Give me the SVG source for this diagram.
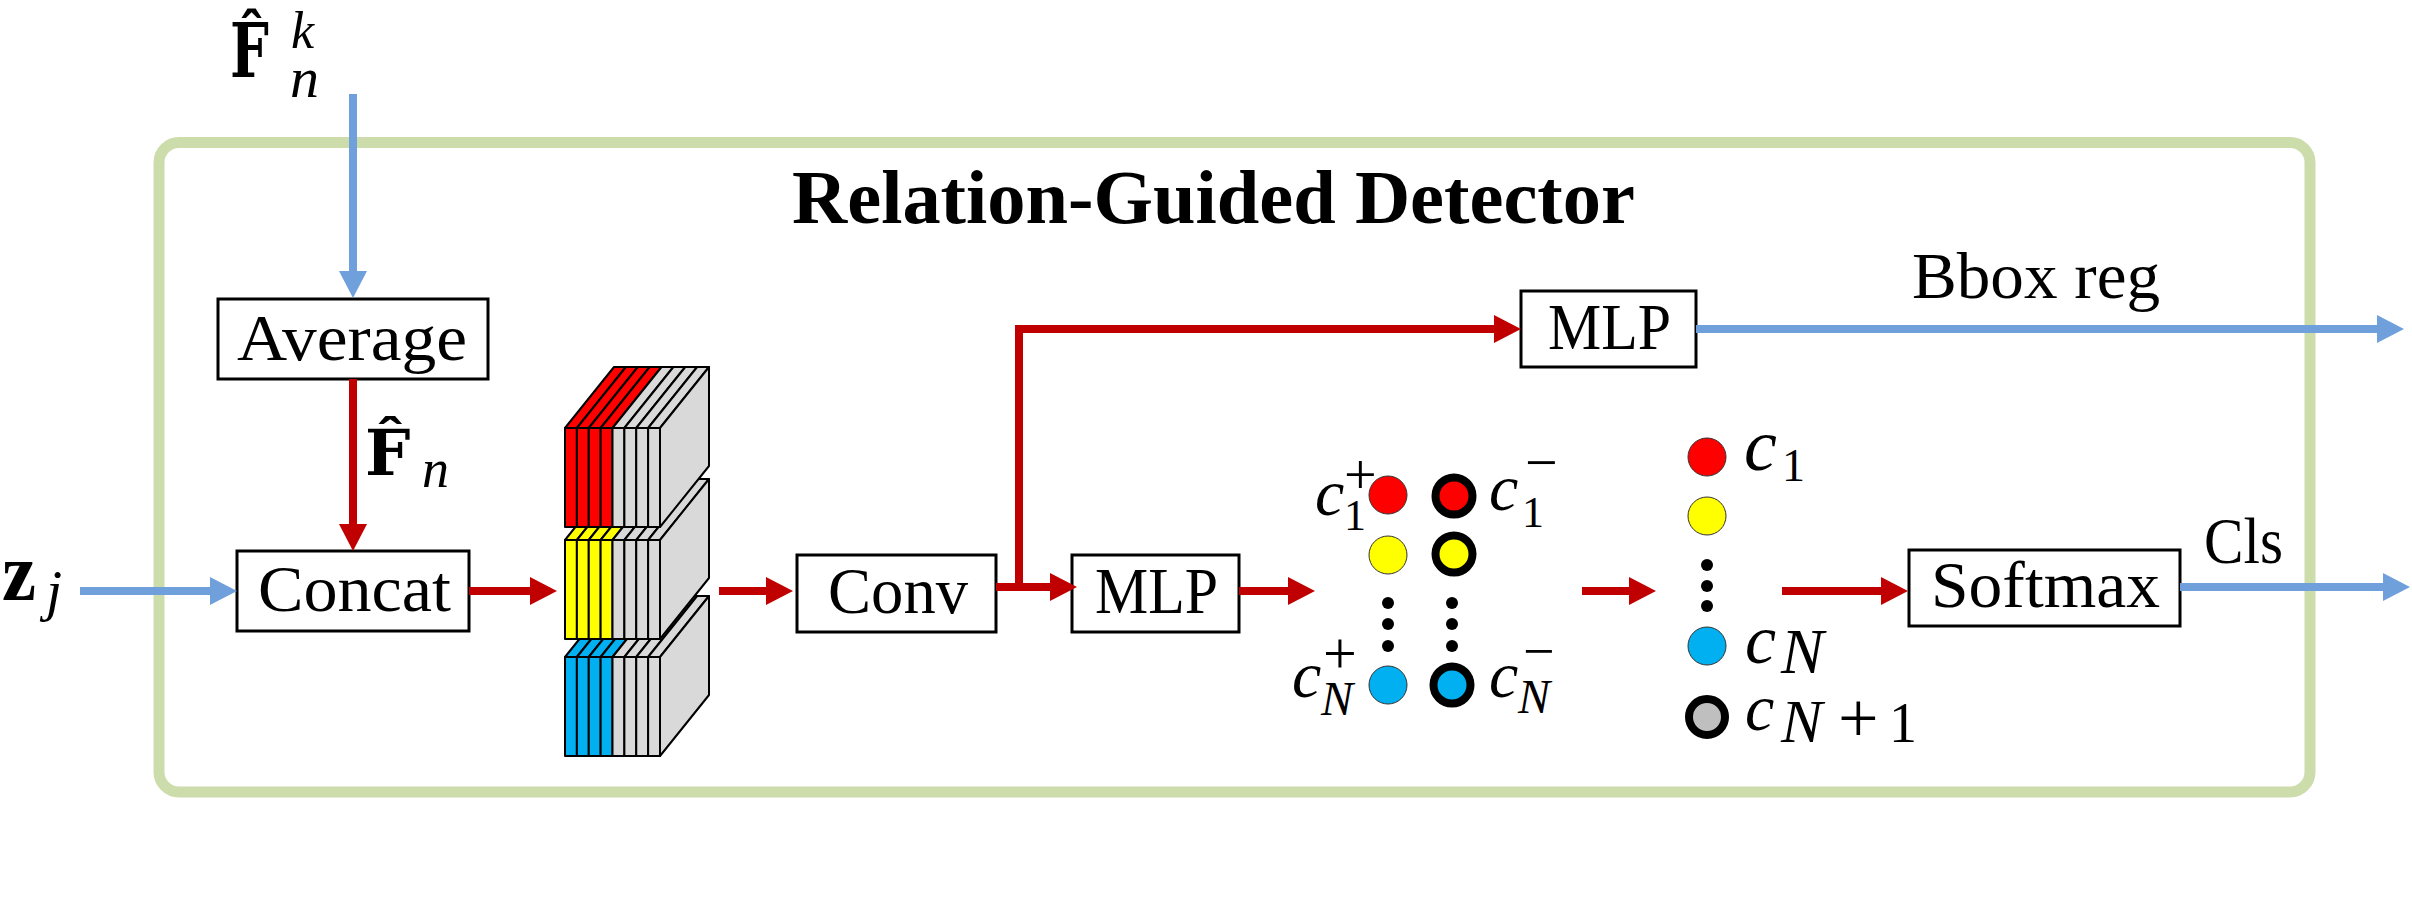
<svg xmlns="http://www.w3.org/2000/svg" width="2412" height="920" viewBox="0 0 2412 920">
<style>
 .box{fill:#fff;stroke:#000;stroke-width:3}
 .lbl{font-family:"Liberation Serif","Times New Roman",serif;font-size:66px;fill:#000}
 .it{font-family:"Liberation Serif","Times New Roman",serif;font-style:italic;fill:#000}
 .rm{font-family:"Liberation Serif","Times New Roman",serif;fill:#000}
 .bd{font-family:"Liberation Serif","Times New Roman",serif;font-weight:bold;fill:#000}
 .dv{font-family:"DejaVu Serif",serif;font-weight:bold;font-style:normal;fill:#000}
 .up{font-style:normal}
 .red{stroke:#c00000;stroke-width:8;fill:none}
 .blue{stroke:#70a0dc;stroke-width:8;fill:none}
 .dot{fill:#000}
 .c{stroke:#333;stroke-width:1}
 .ring{stroke:#000;stroke-width:8}
 .slice{stroke:#000;stroke-width:2;stroke-linejoin:round}
 .grey{fill:#d9d9d9}
</style>
<defs>
 <marker id="arR" markerUnits="userSpaceOnUse" markerWidth="27" markerHeight="28" viewBox="0 0 27 28" refX="7" refY="14" orient="auto">
  <path d="M0,0 L27,14 L0,28 Z" fill="#c00000"/>
 </marker>
 <marker id="arB" markerUnits="userSpaceOnUse" markerWidth="27" markerHeight="28" viewBox="0 0 27 28" refX="7" refY="14" orient="auto">
  <path d="M0,0 L27,14 L0,28 Z" fill="#70a0dc"/>
 </marker>
 <g id="block">
  <rect class="slice" x="0" y="0" width="11.875" height="99"/>
  <polygon class="slice" points="0,0 11.875,0 60.875,-61 49,-61"/>
  <rect class="slice" x="11.875" y="0" width="11.875" height="99"/>
  <polygon class="slice" points="11.875,0 23.75,0 72.75,-61 60.875,-61"/>
  <rect class="slice" x="23.75" y="0" width="11.875" height="99"/>
  <polygon class="slice" points="23.75,0 35.625,0 84.625,-61 72.75,-61"/>
  <rect class="slice" x="35.625" y="0" width="11.875" height="99"/>
  <polygon class="slice" points="35.625,0 47.5,0 96.5,-61 84.625,-61"/>
  <rect class="slice grey" x="47.5" y="0" width="11.875" height="99"/>
  <polygon class="slice grey" points="47.5,0 59.375,0 108.375,-61 96.5,-61"/>
  <rect class="slice grey" x="59.375" y="0" width="11.875" height="99"/>
  <polygon class="slice grey" points="59.375,0 71.25,0 120.25,-61 108.375,-61"/>
  <rect class="slice grey" x="71.25" y="0" width="11.875" height="99"/>
  <polygon class="slice grey" points="71.25,0 83.125,0 132.125,-61 120.25,-61"/>
  <rect class="slice grey" x="83.125" y="0" width="11.875" height="99"/>
  <polygon class="slice grey" points="83.125,0 95,0 144,-61 132.125,-61"/>
  <polygon class="slice grey" points="95,0 144,-61 144,38 95,99"/>
 </g>
</defs>
<rect width="2412" height="920" fill="#fff"/>

<g id="detector">
 <rect x="159" y="142.5" width="2151" height="649.5" rx="20" fill="none" stroke="#ccdcaa" stroke-width="11"/>
 <text class="bd" x="792" y="223" font-size="76" textLength="843" lengthAdjust="spacingAndGlyphs">Relation-Guided Detector</text>
</g>

<g id="input-F">
 <text class="dv" transform="translate(230,77) scale(0.74,1)" font-size="74">F&#x302;</text>
 <text class="it"><tspan x="291" y="48" font-size="52">k</tspan><tspan x="290" y="97" font-size="58">n</tspan></text>
</g>

<g id="input-z">
 <text class="bd" x="2" y="600" font-size="82" textLength="34" lengthAdjust="spacingAndGlyphs">z</text>
 <text class="it" x="46" y="610" font-size="58">j</text>
</g>

<g id="average">
 <rect class="box" x="218" y="299" width="270" height="80"/>
 <text class="lbl" x="237" y="360" textLength="230" lengthAdjust="spacingAndGlyphs">Average</text>
</g>

<g id="label-Fn">
 <text class="it"><tspan class="dv" x="365" y="475" font-size="64">F&#x302;</tspan><tspan x="422" y="487" font-size="54">n</tspan></text>
</g>

<g id="concat">
 <rect class="box" x="237" y="551" width="232" height="80"/>
 <text class="lbl" x="258" y="611" textLength="193" lengthAdjust="spacingAndGlyphs">Concat</text>
</g>

<g id="feature-stack">
 <use href="#block" x="565" y="657" fill="#00b0f0"/>
 <use href="#block" x="565" y="540" fill="#ffff00"/>
 <use href="#block" x="565" y="428" fill="#ff0000"/>
</g>

<g id="conv">
 <rect class="box" x="797" y="555" width="199" height="77"/>
 <text class="lbl" x="828" y="613" textLength="140" lengthAdjust="spacingAndGlyphs">Conv</text>
</g>

<g id="mlp-cls">
 <rect class="box" x="1072" y="555" width="167" height="77"/>
 <text class="lbl" x="1095" y="613" textLength="123" lengthAdjust="spacingAndGlyphs">MLP</text>
</g>

<g id="mlp-reg">
 <rect class="box" x="1521" y="291" width="175" height="76"/>
 <text class="lbl" x="1548" y="349" textLength="123" lengthAdjust="spacingAndGlyphs">MLP</text>
</g>

<g id="scores-pos-neg">
 <circle class="c" cx="1388" cy="495" r="19" fill="#ff0000"/>
 <circle class="c" cx="1388" cy="555" r="19" fill="#ffff00"/>
 <circle class="dot" cx="1388" cy="603" r="6"/>
 <circle class="dot" cx="1388" cy="624" r="6"/>
 <circle class="dot" cx="1388" cy="646" r="6"/>
 <circle class="c" cx="1388" cy="685" r="19" fill="#00b0f0"/>
 <circle class="ring" cx="1454" cy="496" r="18.5" fill="#ff0000"/>
 <circle class="ring" cx="1454" cy="554" r="18.5" fill="#ffff00"/>
 <circle class="dot" cx="1452" cy="603" r="6"/>
 <circle class="dot" cx="1452" cy="624" r="6"/>
 <circle class="dot" cx="1452" cy="646" r="6"/>
 <circle class="ring" cx="1452" cy="685" r="18.5" fill="#00b0f0"/>
 <text class="it"><tspan x="1315" y="515" font-size="66">c</tspan><tspan class="up" x="1344" y="530" font-size="44">1</tspan><tspan class="up" x="1344" y="494" font-size="58">+</tspan></text>
 <text class="it"><tspan x="1489" y="510" font-size="66">c</tspan><tspan class="up" x="1522" y="527" font-size="44">1</tspan><tspan class="up" x="1525" y="482" font-size="58">−</tspan></text>
 <text class="it"><tspan x="1292" y="697" font-size="66">c</tspan><tspan x="1321" y="715" font-size="48">N</tspan><tspan class="up" x="1323" y="673" font-size="60">+</tspan></text>
 <text class="it"><tspan x="1489" y="697" font-size="66">c</tspan><tspan x="1518" y="713" font-size="48">N</tspan><tspan class="up" x="1523" y="670" font-size="56">−</tspan></text>
</g>

<g id="scores-merged">
 <circle class="c" cx="1707" cy="457" r="19" fill="#ff0000"/>
 <circle class="c" cx="1707" cy="516" r="19" fill="#ffff00"/>
 <circle class="dot" cx="1707" cy="565" r="6"/>
 <circle class="dot" cx="1707" cy="586" r="6"/>
 <circle class="dot" cx="1707" cy="606" r="6"/>
 <circle class="c" cx="1707" cy="646" r="19" fill="#00b0f0"/>
 <circle class="ring" cx="1707" cy="717" r="18" fill="#bfbfbf"/>
 <text class="it"><tspan x="1744" y="470" font-size="74">c</tspan><tspan class="up" x="1782" y="481" font-size="46">1</tspan></text>
 <text class="it"><tspan x="1745" y="663" font-size="70">c</tspan><tspan x="1781" y="673" font-size="64">N</tspan></text>
 <text class="it"><tspan x="1745" y="730" font-size="66">c</tspan><tspan x="1781" y="742" font-size="62">N</tspan><tspan class="up" x="1838" y="742" font-size="72">+</tspan><tspan class="up" x="1889" y="742" font-size="56">1</tspan></text>
</g>

<g id="softmax">
 <rect class="box" x="1909" y="550" width="271" height="76"/>
 <text class="lbl" x="1931" y="607" textLength="229" lengthAdjust="spacingAndGlyphs">Softmax</text>
</g>

<g id="out-labels">
 <text class="lbl" x="1912" y="298" font-size="64" textLength="248" lengthAdjust="spacingAndGlyphs">Bbox reg</text>
 <text class="lbl" x="2204" y="563" font-size="64" textLength="79" lengthAdjust="spacingAndGlyphs">Cls</text>
</g>

<g id="connectors">
 <line class="blue" x1="353" y1="94" x2="353" y2="278" marker-end="url(#arB)"/>
 <line class="blue" x1="80" y1="591" x2="217" y2="591" marker-end="url(#arB)"/>
 <line class="blue" x1="1696" y1="329" x2="2384" y2="329" marker-end="url(#arB)"/>
 <line class="blue" x1="2180" y1="587" x2="2390" y2="587" marker-end="url(#arB)"/>
 <line class="red" x1="353" y1="379" x2="353" y2="531" marker-end="url(#arR)"/>
 <line class="red" x1="469" y1="591" x2="537" y2="591" marker-end="url(#arR)"/>
 <line class="red" x1="719" y1="591" x2="773" y2="591" marker-end="url(#arR)"/>
 <line class="red" x1="996" y1="587" x2="1057" y2="587" marker-end="url(#arR)"/>
 <polyline class="red" points="1019,587 1019,329 1501,329" marker-end="url(#arR)"/>
 <line class="red" x1="1239" y1="591" x2="1295" y2="591" marker-end="url(#arR)"/>
 <line class="red" x1="1582" y1="591" x2="1636" y2="591" marker-end="url(#arR)"/>
 <line class="red" x1="1782" y1="591" x2="1888" y2="591" marker-end="url(#arR)"/>
</g>
</svg>
